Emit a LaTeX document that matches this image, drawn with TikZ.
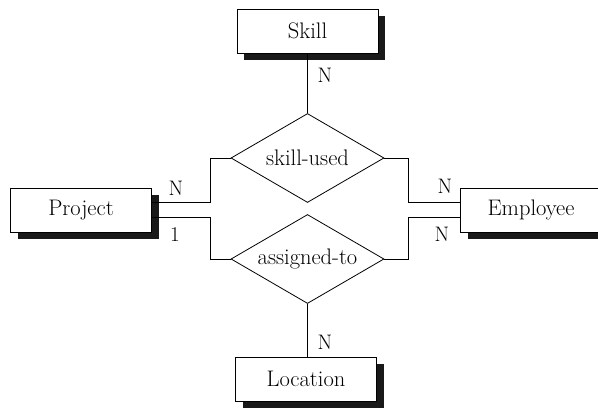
\documentclass[tikz,border=0pt]{standalone}
\usepackage{tikz}
\usetikzlibrary{shapes.geometric,shadows,positioning}

\begin{document}
\begin{tikzpicture}[x=1pt, y=-1pt,
    entity/.style={rectangle, draw, fill=white, line width=0.8pt,
                minimum width=141pt, minimum height=44pt, inner sep=0pt,
                drop shadow={shadow xshift=7pt, shadow yshift=-7pt, fill=black, opacity=0.9},
                font=\fontsize{22.5}{26}\selectfont},
    rel/.style={diamond, draw, line width=0.8pt, aspect=1.72,
                minimum width=153pt, minimum height=89pt,
                inner sep=0pt, font=\fontsize{22.5}{26}\selectfont},
    card/.style={font=\fontsize{21}{25}\selectfont, inner sep=0pt},
    conn/.style={line width=0.8pt}
]
    \useasboundingbox (0,0) rectangle (598,408);

    \node[entity] (skill) at (307.5,31) {Skill};
    \node[entity] (project) at (81,210) {Project};
    \node[entity] (employee) at (531,210) {Employee};
    \node[entity] (location) at (306,379) {Location};

    \node[rel] (skillused) at (307.5,158) {skill-used};
    \node[rel] (assigned) at (307.5,259) {assigned-to};

    \draw[conn] (skill) -- (skillused);
    \draw[conn] (assigned) -- (location.north -| assigned.south);
    \draw[conn] ([yshift=8pt]project.east) -- ++(58,0) |- (skillused.west);
    \draw[conn] ([yshift=-7pt]project.east) -- ++(58,0) |- (assigned.west);
    \draw[conn] ([yshift=8pt]employee.west) -- ++(-52,0) |- (skillused.east);
    \draw[conn] ([yshift=-7pt]employee.west) -- ++(-52,0) |- (assigned.east);

    % cardinalities
    \node[card] (nskill) at (325,75) {N};
    \node[card] (nproject) at (176,188) {N};
    \node[card] (oneproject) at (175,235) {1};
    \node[card] (nempup) at (445,186) {N};
    \node[card] (nemplow) at (442,234) {N};
    \node[card] (nloc) at (325,342) {N};
\end{tikzpicture}
\end{document}
